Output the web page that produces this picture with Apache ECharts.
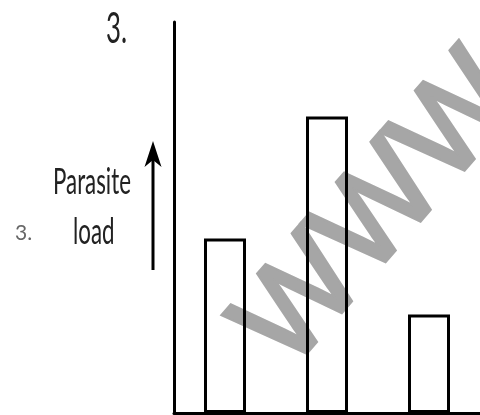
<!DOCTYPE html>
<html>
<head>
<meta charset="utf-8">
<script src="https://cdn.jsdelivr.net/npm/echarts@6/dist/echarts.min.js"></script>
<style>
html,body{margin:0;padding:0;background:#fff;}
#chart{width:480px;height:415px;}
</style>
</head>
<body>
<div id="chart"></div>
<script>
// Data
const categories = ['A', 'B', 'C'];
const parasiteLoad = [44.6, 75.8, 25.2];
const yMax = 100;
const titleText = '3.';
const sideNumber = '3.';
const yLabelLines = ['Parasite', 'load'];
const watermarkText = 'WWW';

const chart = echarts.init(document.getElementById('chart'), null, {renderer: 'canvas'});
const FONT = 'Lato, "Open Sans", sans-serif';

const option = {
  backgroundColor: '#ffffff',
  animation: false,
  grid: {left: 174, top: 22, width: 308, bottom: 2, containLabel: false},
  xAxis: {
    type: 'category',
    data: categories,
    axisLine: {show: true, lineStyle: {color: '#000', width: 3}},
    axisTick: {show: false},
    axisLabel: {show: false},
    splitLine: {show: false}
  },
  yAxis: {
    type: 'value',
    min: 0,
    max: yMax,
    axisLine: {show: true, onZero: false, lineStyle: {color: '#000', width: 3}},
    axisTick: {show: false},
    axisLabel: {show: false},
    splitLine: {show: false}
  },
  series: [{
    type: 'bar',
    data: parasiteLoad,
    barWidth: 42,
    z: 5,
    itemStyle: {color: 'rgba(255,255,255,0)', borderColor: '#000', borderWidth: 3}
  }],
  graphic: [
    {type: 'text', x: 214, y: 308, rotation: 0.86, z: 0,
     style: {text: watermarkText, font: '128px "Liberation Sans", Arial, sans-serif', fill: '#a6a6a6', stroke: '#a6a6a6', lineWidth: 4, lineJoin: 'miter', textAlign: 'left', textVerticalAlign: 'top'}},
    {type: 'text', x: 106, y: 29, scaleX: 0.6, z: 10,
     style: {text: titleText, font: '43px ' + FONT, fill: '#222', textAlign: 'left', textVerticalAlign: 'middle'}},
    {type: 'text', x: 15, y: 233, z: 10,
     style: {text: sideNumber, font: '21px ' + FONT, fill: '#666', textAlign: 'left', textVerticalAlign: 'middle'}},
    {type: 'text', x: 53, y: 182, scaleX: 0.62, z: 10,
     style: {text: yLabelLines[0], font: '36px ' + FONT, fill: '#222', textAlign: 'left', textVerticalAlign: 'middle'}},
    {type: 'text', x: 73, y: 232, scaleX: 0.62, z: 10,
     style: {text: yLabelLines[1], font: '36px ' + FONT, fill: '#222', textAlign: 'left', textVerticalAlign: 'middle'}},
    {type: 'line', z: 10, shape: {x1: 153, y1: 160, x2: 153, y2: 270},
     style: {stroke: '#000', lineWidth: 3}},
    {type: 'polygon', z: 10, shape: {points: [[153, 141], [161.5, 167], [153, 160], [144.5, 167]]},
     style: {fill: '#000'}}
  ]
};
chart.setOption(option);
</script>
</body>
</html>
